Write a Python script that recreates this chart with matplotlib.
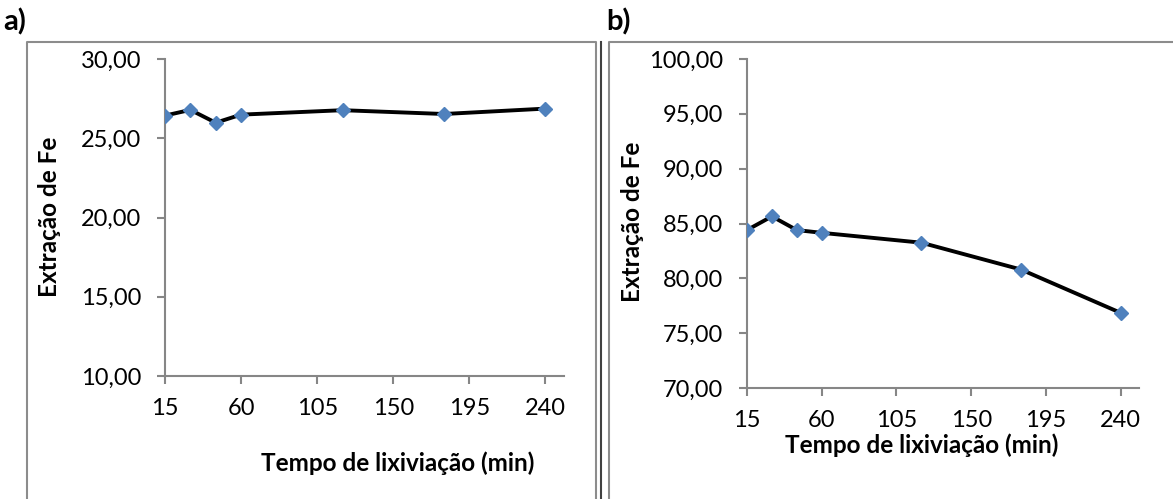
import matplotlib.pyplot as plt
from matplotlib.lines import Line2D
from matplotlib.ticker import FuncFormatter

plt.rcParams["font.family"] = ["Lato", "DejaVu Sans"]

tempo = [15, 30, 45, 60, 120, 180, 240]
fe_a = [26.43, 26.79, 25.98, 26.49, 26.77, 26.53, 26.87]
fe_b = [84.40, 85.65, 84.40, 84.15, 83.25, 80.80, 76.85]
xticks = [15, 60, 105, 150, 195, 240]
yticks_a = [10, 15, 20, 25, 30]
yticks_b = [70, 75, 80, 85, 90, 95, 100]

W, H = 1173, 499
fig = plt.figure(figsize=(W / 100, H / 100), dpi=100)


def px(x, y):
    return x / W, 1 - y / H


def comma(v, pos):
    return f"{v:.2f}".replace(".", ",")


# panel frames
frame = "#8c8c8c"
fig.add_artist(Line2D([27 / W, 27 / W, 596 / W, 596 / W], [0, 1 - 42 / H, 1 - 42 / H, 0],
                      color=frame, lw=1.5, transform=fig.transFigure))
fig.add_artist(Line2D([609 / W, 609 / W, 1], [0, 1 - 42 / H, 1 - 42 / H],
                      color=frame, lw=1.5, transform=fig.transFigure))
fig.add_artist(Line2D([601 / W, 601 / W], [0, 1 - 42 / H],
                      color="#404040", lw=1.5, transform=fig.transFigure))


def panel(rect, y, yticks, ylim):
    ax = fig.add_axes(rect)
    ax.plot(tempo, y, color="black", lw=2.8, marker="D", markersize=7.5,
            markerfacecolor="#4F81BD", markeredgecolor="#4F81BD", zorder=3)
    ax.set_xlim(15, 251)
    ax.set_ylim(*ylim)
    ax.set_xticks(xticks)
    ax.set_yticks(yticks)
    ax.yaxis.set_major_formatter(FuncFormatter(comma))
    for s in ["top", "right"]:
        ax.spines[s].set_visible(False)
    for s in ["left", "bottom"]:
        ax.spines[s].set_color("#868686")
        ax.spines[s].set_linewidth(1.5)
    ax.tick_params(axis="both", colors="#868686", labelcolor="black",
                   labelsize=17, length=6, width=1.5)
    ax.tick_params(axis="x", pad=10)
    ax.tick_params(axis="y", pad=11)
    ax.patch.set_alpha(0)
    for sp in ax.spines.values():
        sp.set_clip_on(False)
    return ax


ax_a = panel([165 / W, 1 - 376 / H, 399 / W, 317 / H], fe_a, yticks_a, (10, 30))
ax_b = panel([747 / W, 1 - 388 / H, 392 / W, 329 / H], fe_b, yticks_b, (70, 100))

lab = dict(fontsize=17.5, fontweight="bold", ha="center", va="center")
fig.text(*px(50, 217), "Extração de Fe", rotation=90, **lab)
fig.text(*px(633, 222), "Extração de Fe", rotation=90, **lab)
fig.text(*px(398, 463), "Tempo de lixiviação (min)", **lab)
fig.text(*px(922, 445), "Tempo de lixiviação (min)", **lab)

fig.text(*px(3, 22), "a)", fontsize=21, fontweight="bold", ha="left", va="center")
fig.text(*px(606, 22), "b)", fontsize=21, fontweight="bold", ha="left", va="center")

fig.savefig("out.png", dpi=100)
